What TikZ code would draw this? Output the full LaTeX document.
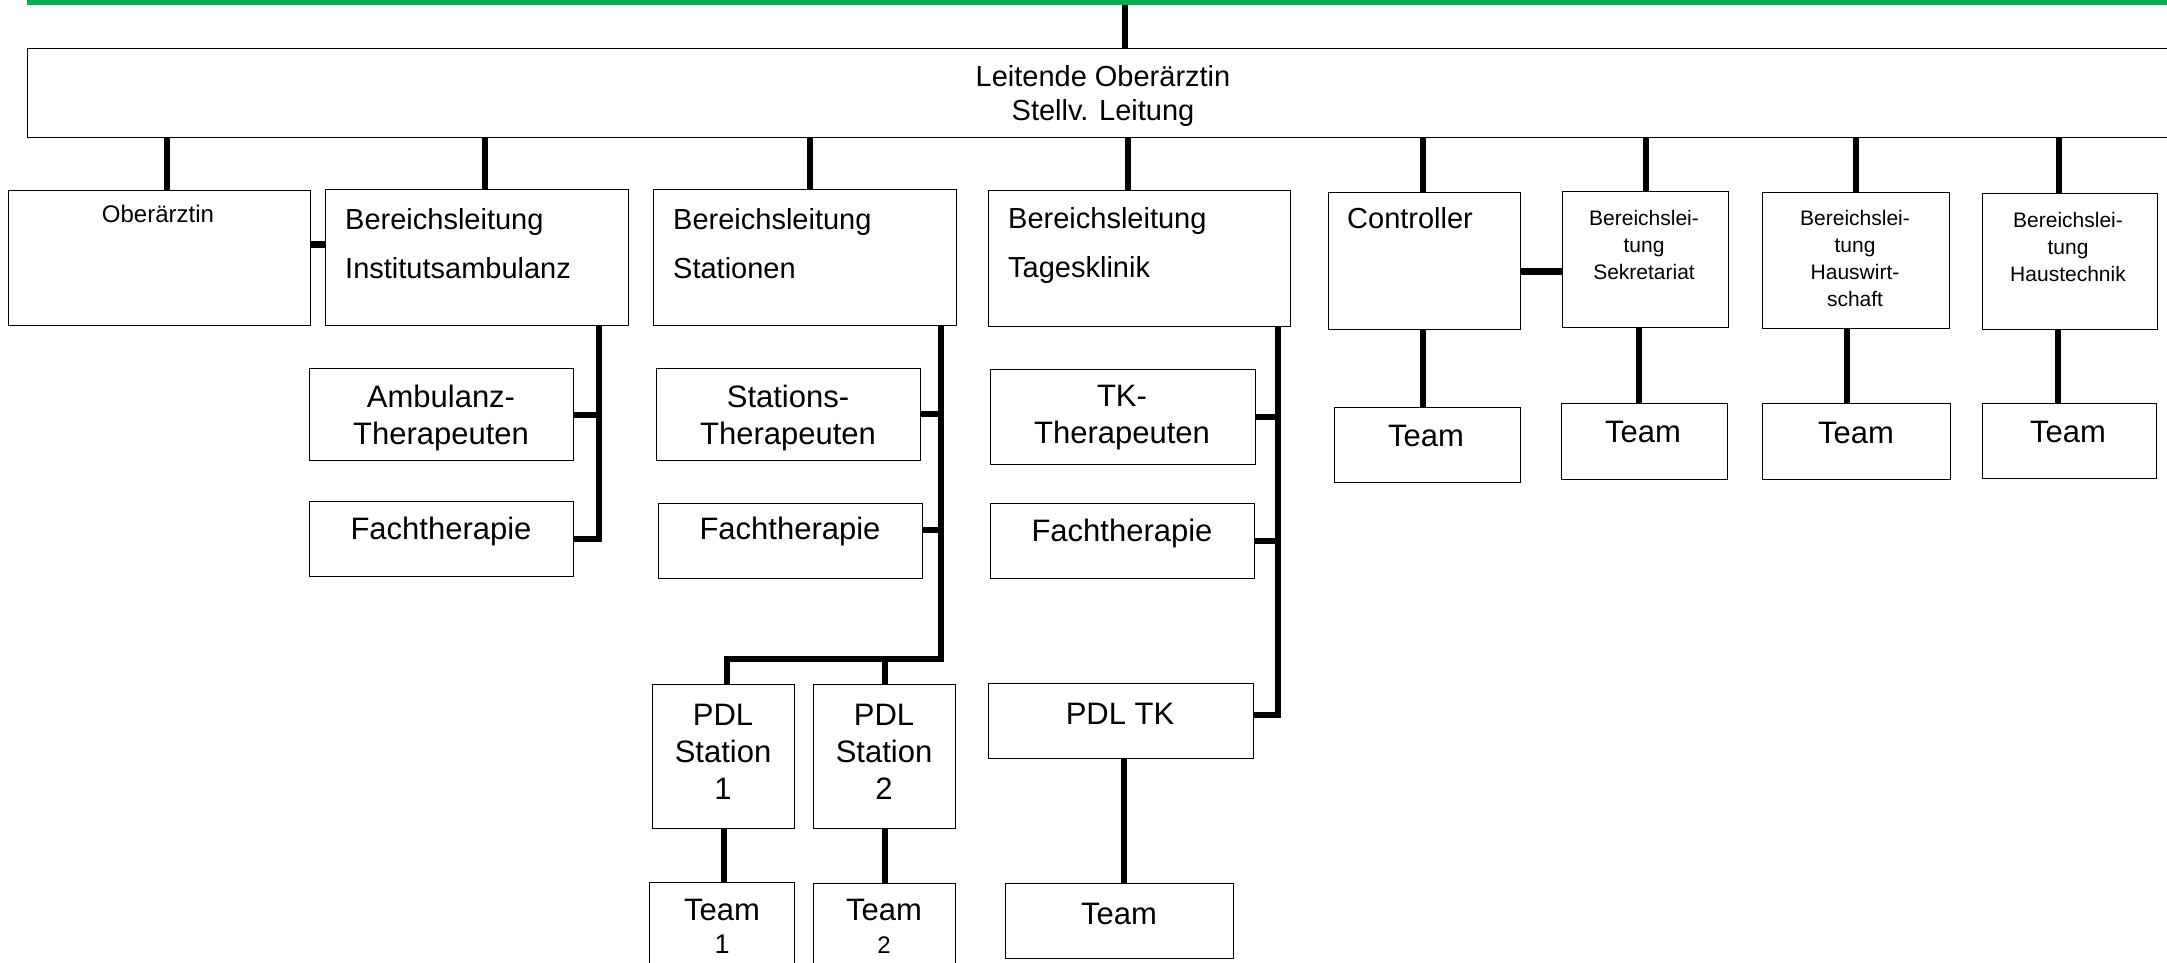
\documentclass[tikz,border=0pt]{standalone}
\usepackage{fontspec}
\setmainfont{Liberation Sans}
\definecolor{bargreen}{RGB}{0,176,80}
\begin{document}
\begin{tikzpicture}[x=1pt,y=-1pt,
  box/.style={draw=black, line width=1.3pt, inner sep=0pt, anchor=north west, fill=white},
  txt/.style={inner sep=0pt, align=center},
  ltxt/.style={inner sep=0pt, align=left, anchor=west},
  conn/.style={line width=6pt, black},
  stub/.style={line width=7pt, black},
  fA/.style={font=\fontsize{29}{34}\selectfont},
  fB/.style={font=\fontsize{29}{49}\selectfont},
  fO/.style={font=\fontsize{24}{29}\selectfont},
  fS/.style={font=\fontsize{21}{27}\selectfont},
  fM/.style={font=\fontsize{31}{37}\selectfont}]
\useasboundingbox (0,0) rectangle (2167,962);
\clip (0,0) rectangle (2167,962);
\fill[white] (0,0) rectangle (2167,962);
% green bar
\node[fill=bargreen, inner sep=0pt, minimum width=2160pt, minimum height=5pt, anchor=north west] (bar) at (27,0) {};
% boxes
\node[box, minimum width=2153pt, minimum height=89pt] (top) at (27,48) {};
\node[box, minimum width=302pt, minimum height=135pt] (obA) at (8,190) {};
\node[box, minimum width=303pt, minimum height=136pt] (inst) at (325,189) {};
\node[box, minimum width=303pt, minimum height=136pt] (stat) at (653,189) {};
\node[box, minimum width=302pt, minimum height=136pt] (tk) at (988,190) {};
\node[box, minimum width=192pt, minimum height=137pt] (ctrl) at (1328,192) {};
\node[box, minimum width=166pt, minimum height=136pt] (sek) at (1562,191) {};
\node[box, minimum width=187pt, minimum height=136pt] (hw) at (1762,192) {};
\node[box, minimum width=175pt, minimum height=136pt] (ht) at (1982,193) {};
\node[box, minimum width=264pt, minimum height=92pt] (ambT) at (309,368) {};
\node[box, minimum width=264pt, minimum height=75pt] (ambF) at (309,501) {};
\node[box, minimum width=264pt, minimum height=92pt] (statT) at (656,368) {};
\node[box, minimum width=264pt, minimum height=75pt] (statF) at (658,503) {};
\node[box, minimum width=265pt, minimum height=95pt] (tkT) at (990,369) {};
\node[box, minimum width=264pt, minimum height=75pt] (tkF) at (990,503) {};
\node[box, minimum width=142pt, minimum height=144pt] (pdl1) at (652,684) {};
\node[box, minimum width=142pt, minimum height=144pt] (pdl2) at (813,684) {};
\node[box, minimum width=265pt, minimum height=75pt] (pdltk) at (988,683) {};
\node[box, minimum width=145pt, minimum height=110pt] (team1) at (649,882) {};
\node[box, minimum width=142pt, minimum height=110pt] (team2) at (813,883) {};
\node[box, minimum width=228pt, minimum height=75pt] (teamtk) at (1005,883) {};
\node[box, minimum width=186pt, minimum height=75pt] (ctrlTeam) at (1334,407) {};
\node[box, minimum width=166pt, minimum height=76pt] (sekTeam) at (1561,403) {};
\node[box, minimum width=188pt, minimum height=76pt] (hwTeam) at (1762,403) {};
\node[box, minimum width=174pt, minimum height=75pt] (htTeam) at (1982,403) {};
% texts
\node[txt, fA] (tTop) at (1103,96) {Leitende Oberärztin\\Stellv. Leitung};
\node[txt, fO] (tObA) at (158,214) {Oberärztin};
\node[ltxt, fB] (tInst) at (345,244) {Bereichsleitung\\Institutsambulanz};
\node[ltxt, fB] (tStat) at (673,244) {Bereichsleitung\\Stationen};
\node[ltxt, fB] (tTk) at (1008,245) {Bereichsleitung\\Tagesklinik};
\node[ltxt, fB] (tCtrl) at (1347,218) {Controller};
\node[txt, fS] (tSek) at (1644,245) {Bereichslei-\\tung\\Sekretariat};
\node[txt, fS] (tHw) at (1855,258) {Bereichslei-\\tung\\Hauswirt-\\schaft};
\node[txt, fS] (tHt) at (2068,247) {Bereichslei-\\tung\\Haustechnik};
\node[txt, fM] (tAmbT) at (441,418) {Ambulanz-\\Therapeuten};
\node[txt, fM] (tAmbF) at (441,531) {Fachtherapie};
\node[txt, fM] (tStatT) at (788,418) {Stations-\\Therapeuten};
\node[txt, fM] (tStatF) at (790,531) {Fachtherapie};
\node[txt, fM] (tTkT) at (1122,418) {TK-\\Therapeuten};
\node[txt, fM] (tTkF) at (1122,533) {Fachtherapie};
\node[txt, fM] (tPdl1) at (723,752) {PDL\\Station\\1};
\node[txt, fM] (tPdl2) at (884,752) {PDL\\Station\\2};
\node[txt, fM] (tPdltk) at (1120,714) {PDL TK};
\node[txt, font=\fontsize{31}{33}\selectfont] (tTeam1) at (722,926) {Team\\\fontsize{27}{33}\selectfont 1};
\node[txt, font=\fontsize{31}{33}\selectfont] (tTeam2) at (884,926) {Team\\\fontsize{24}{33}\selectfont 2};
\node[txt, fM] (tTeamtk) at (1119,914) {Team};
\node[txt, fM] (tCtrlTeam) at (1426,436) {Team};
\node[txt, fM] (tSekTeam) at (1643,432) {Team};
\node[txt, fM] (tHwTeam) at (1856,433) {Team};
\node[txt, fM] (tHtTeam) at (2068,432) {Team};
% connectors
\coordinate (topconn) at ([xshift=20.5pt]top.north);
\draw[conn] (bar.south -| topconn) -- (topconn);
\draw[conn] ([xshift=7pt]obA.north) -- ([xshift=7pt]obA.north |- top.south);
\draw[conn] ([xshift=7.5pt]inst.north) -- ([xshift=7.5pt]inst.north |- top.south);
\draw[conn] ([xshift=5pt]stat.north) -- ([xshift=5pt]stat.north |- top.south);
\draw[conn] ([xshift=-12pt]tk.north) -- ([xshift=-12pt]tk.north |- top.south);
\draw[conn] ([xshift=-1.5pt]ctrl.north) -- ([xshift=-1.5pt]ctrl.north |- top.south);
\draw[conn] (sek.north) -- (sek.north |- top.south);
\draw[conn] (hw.north) -- (hw.north |- top.south);
\draw[conn] ([xshift=-11.5pt]ht.north) -- ([xshift=-11.5pt]ht.north |- top.south);
% side links
\draw[stub] ([yshift=14pt]obA.east) -- ([yshift=14pt]obA.east -| inst.west);
\draw[stub] ([yshift=-10pt]ctrl.east) -- ([yshift=-10pt]ctrl.east -| sek.west);
% Institutsambulanz branch
\coordinate (instbus) at ([xshift=-30pt]inst.south east);
\draw[conn] (instbus) |- (ambF.east);
\draw[conn] (ambT.east) -- (ambT.east -| instbus);
% Stationen branch
\coordinate (statbus) at ([xshift=-16pt]stat.south east);
\coordinate (statjoin) at ([yshift=25pt,xshift=3pt]pdl1.north);
\draw[conn] (statbus) |- (statjoin) -- (statjoin |- pdl1.north);
\draw[conn] (pdl2.north) -- (pdl2.north |- statjoin);
\draw[conn] ([yshift=1pt]statT.east) -- ([yshift=1pt]statT.east -| statbus);
\draw[conn] ([yshift=11pt]statF.east) -- ([yshift=11pt]statF.east -| statbus);
% Tagesklinik branch
\coordinate (tkbus) at ([xshift=-13pt]tk.south east);
\draw[conn] (tkbus) |- ([yshift=6pt]pdltk.east);
\draw[conn] (tkT.east) -- (tkT.east -| tkbus);
\draw[conn] (tkF.east) -- (tkF.east -| tkbus);
% teams
\draw[conn] (pdl1.south) -- (team1.north -| pdl1.south);
\draw[conn] (pdl2.south) -- (team2.north -| pdl2.south);
\draw[conn] ([xshift=3pt]pdltk.south) -- ([xshift=3pt]pdltk.south |- teamtk.north);
\draw[conn] ([xshift=-2pt]ctrl.south) -- ([xshift=-2pt]ctrl.south |- ctrlTeam.north);
\draw[conn] ([xshift=-7pt]sek.south) -- ([xshift=-7pt]sek.south |- sekTeam.north);
\draw[conn] ([xshift=-9.5pt]hw.south) -- ([xshift=-9.5pt]hw.south |- hwTeam.north);
\draw[conn] ([xshift=-12pt]ht.south) -- ([xshift=-12pt]ht.south |- htTeam.north);
\end{tikzpicture}
\end{document}
